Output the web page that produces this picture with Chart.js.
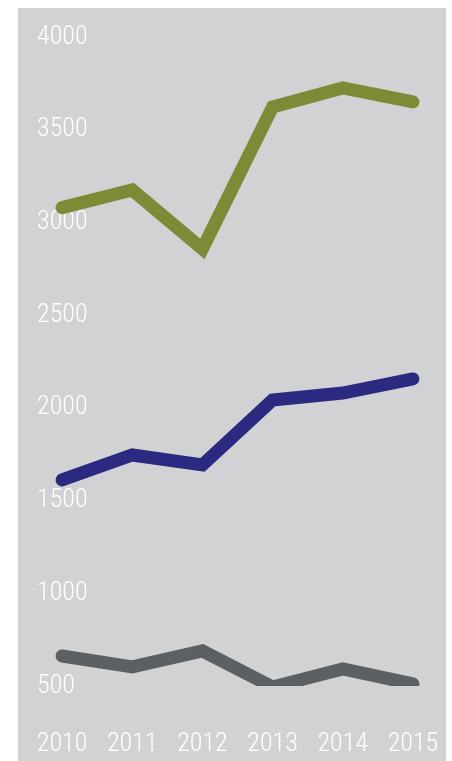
<!DOCTYPE html>
<html>
<head>
<meta charset="utf-8">
<script src="https://cdn.jsdelivr.net/npm/chart.js@4.4.1/dist/chart.umd.min.js"></script>
<style>
  html, body { margin: 0; padding: 0; background: #ffffff; overflow: hidden; }
  #wrap { position: relative; width: 452px; height: 761px; }
</style>
</head>
<body>
<div id="wrap"><canvas id="lineChart"></canvas></div>
<script>
var years = ["2010", "2011", "2012", "2013", "2014", "2015"];
var upperValues = [3080, 3175, 2857, 3623, 3725, 3650];
var middleValues = [1611, 1746, 1692, 2042, 2080, 2156];
var lowerValues = [662, 603, 689, 495, 592, 511];
var yTicks = [500, 1000, 1500, 2000, 2500, 3000, 3500, 4000];

var labelFont = {
  family: "'Roboto Condensed', 'DejaVu Sans Condensed', sans-serif",
  size: 26,
  weight: 300
};

// grey panel behind the plot
var panel = {
  id: 'panel',
  beforeDraw: function (chart) {
    var ctx = chart.ctx;
    ctx.save();
    ctx.fillStyle = '#d1d2d4';
    ctx.fillRect(18, 8, 428, 753);
    ctx.restore();
  }
};

function lineSet(name, values, color) {
  return {
    label: name,
    data: values,
    borderColor: color,
    backgroundColor: color,
    borderWidth: 13,
    borderCapStyle: 'round',
    borderJoinStyle: 'miter',
    pointRadius: 0,
    tension: 0,
    fill: false
  };
}

var ctx = document.getElementById('lineChart').getContext('2d');

var chart = new Chart(ctx, {
  type: 'line',
  data: {
    labels: years,
    datasets: [
      lineSet('upper', upperValues, '#7c8b35'),
      lineSet('middle', middleValues, '#2b2a80'),
      lineSet('lower', lowerValues, '#5b6064')
    ]
  },
  options: {
    responsive: true,
    maintainAspectRatio: false,
    animation: false,
    layout: { padding: { left: 27, right: 4, top: 37, bottom: 0 } },
    plugins: {
      legend: { display: false },
      tooltip: { enabled: false }
    },
    scales: {
      x: {
        offset: true,
        grid: { display: false, drawTicks: false },
        border: { display: false },
        ticks: {
          color: '#ffffff',
          font: labelFont,
          padding: 43,
          maxRotation: 0,
          autoSkip: false
        },
        afterFit: function (scale) {
          scale.height = 75;
          scale.paddingLeft = 0;
          scale.paddingRight = 0;
        }
      },
      y: {
        min: 500,
        max: 4000,
        grid: { display: false, drawTicks: false },
        border: { display: false },
        afterBuildTicks: function (scale) {
          scale.ticks = yTicks.map(function (v) { return { value: v }; });
        },
        afterFit: function (scale) {
          scale.width = 0;
          scale.paddingTop = 0;
          scale.paddingBottom = 0;
        },
        ticks: {
          mirror: true,
          padding: 10,
          color: '#ffffff',
          font: labelFont,
          callback: function (v) { return String(v); }
        }
      }
    }
  },
  plugins: [panel]
});
</script>
</body>
</html>
